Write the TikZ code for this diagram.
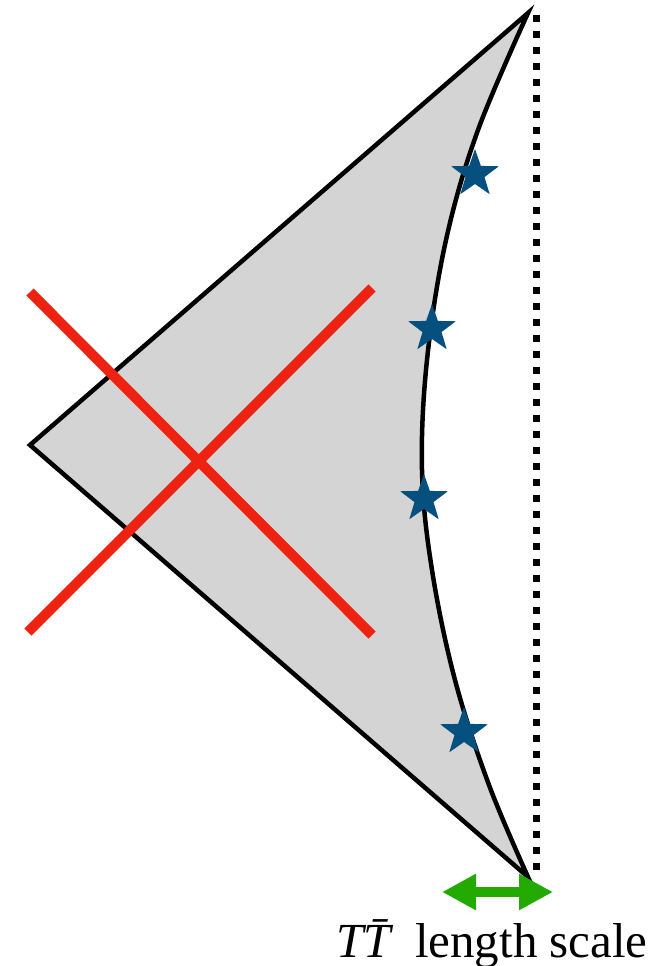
\documentclass[tikz,border=0pt]{standalone}
\usepackage{fontspec}
\setmainfont{Liberation Serif}
\usetikzlibrary{shapes.geometric,arrows.meta}
\definecolor{regiongray}{HTML}{D4D4D4}
\definecolor{starblue}{HTML}{05507F}
\definecolor{crossred}{HTML}{EE2211}
\definecolor{arrowgreen}{HTML}{22AA00}
\tikzset{
  outline/.style={draw=black, line width=4.5pt, line join=miter},
  redline/.style={draw=crossred, line width=10pt},
  bluestar/.style={star, star points=5, star point ratio=2.5, fill=starblue, draw=none, minimum size=50pt, inner sep=0pt},
  dotline/.style={draw=black, line width=7pt, dash pattern=on 7pt off 9pt},
  scalearrow/.style={draw=arrowgreen, line width=10pt, {Triangle[length=34pt,width=34pt]}-{Triangle[length=34pt,width=34pt]}},
  label/.style={font=\fontsize{49}{55}\selectfont, inner sep=0pt, anchor=base}
}
\begin{document}
\begin{tikzpicture}[x=1pt,y=-1pt]
\useasboundingbox (0,0) rectangle (656,966);
\coordinate (top) at (528,13);
\coordinate (left) at (30,445);
\coordinate (bot) at (528,877);
% region
\path[outline, fill=regiongray] (top) -- (left) -- (bot)
  -- plot[smooth, tension=0.6] coordinates {(528,877) (489,785) (455,680) (432,570) (422,470) (427,360) (446,240) (478,130) (528,13)} -- cycle;
% dotted boundary
\coordinate (dtop) at (536,15);
\coordinate (dbot) at (536,870);
\draw[dotline] (dtop) -- (dbot);
% red cross
\coordinate (r1a) at (30,292);
\coordinate (r1b) at (372,635);
\coordinate (r2a) at (28,632);
\coordinate (r2b) at (372,288);
\draw[redline] (r1a) -- (r1b);
\draw[redline] (r2a) -- (r2b);
% stars
\node[bluestar] (s1) at (475,174) {};
\node[bluestar] (s2) at (432,329) {};
\node[bluestar] (s3) at (424,499) {};
\node[bluestar] (s4) at (464,732) {};
% arrow
\coordinate (al) at (442,892);
\coordinate (ar) at (553,892);
\draw[scalearrow] (al) -- (ar);
\node[label] (lbl) at (492,957) {\textit{T\=T} length scale};
\end{tikzpicture}
\end{document}
